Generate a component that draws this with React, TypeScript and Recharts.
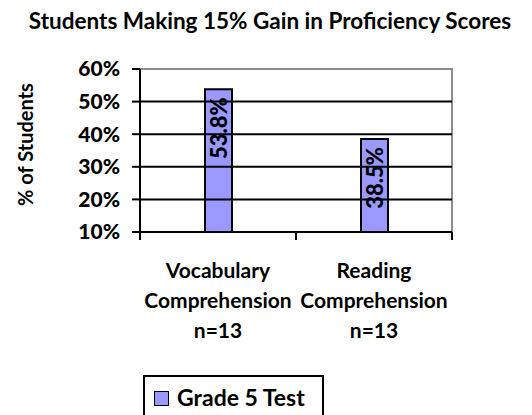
import React from "react"
import { Bar, BarChart, LabelList, ReferenceArea, ReferenceLine, XAxis, YAxis } from "recharts"

const categoryLines = [
    ["Vocabulary", "Comprehension", "n=13"],
    ["Reading", "Comprehension", "n=13"],
]
const seriesName = "Grade 5 Test"
const seriesValues = [53.8, 38.5]
const yTicks = [10, 20, 30, 40, 50, 60]
const gridValues = [20, 30, 40, 50]

const FONT = "Lato, 'DejaVu Sans', sans-serif"
const W = 532
const H = 415
const margin = { top: 69, right: 80, left: 0, bottom: 0 }
const yAxisWidth = 140
const bandHalf = (W - yAxisWidth - margin.right) / categoryLines.length / 2

const data = categoryLines.map((lines, i) => ({ name: lines.join(" "), value: seriesValues[i] }))

function XTick(props: any) {
    const { x, y, index } = props
    const lines = categoryLines[index] || []
    return (
        <g>
            {index === 0 && <line x1={x - bandHalf} x2={x - bandHalf} y1={y} y2={y + 8} stroke="#000" strokeWidth={2} />}
            <line x1={x + bandHalf} x2={x + bandHalf} y1={y} y2={y + 8} stroke="#000" strokeWidth={2} />
            {lines.map((t: string, i: number) => (
                <text key={i} x={x} y={y + 46 + i * 30} textAnchor="middle" fontFamily={FONT} fontWeight="bold" fontSize={21} fill="#000">
                    {t}
                </text>
            ))}
        </g>
    )
}

function BarLabel(props: any) {
    const { x, y, width, value } = props
    const cx = x + width / 2
    const ty = y + 8
    return (
        <text x={cx} y={ty} transform={`rotate(-90 ${cx} ${ty})`} textAnchor="end" dominantBaseline="central"
            fontFamily={FONT} fontWeight={900} fontSize={22} fill="#000">
            {`${value}%`}
        </text>
    )
}

function YLabel(props: any) {
    const { viewBox } = props
    const cx = 25
    const cy = viewBox.y + viewBox.height / 2 - 6
    return (
        <text x={cx} y={cy} transform={`rotate(-90 ${cx} ${cy})`} textAnchor="middle" dominantBaseline="central"
            fontFamily={FONT} fontWeight="bold" fontSize={20} fill="#000">
            % of Students
        </text>
    )
}

export default function App() {
    return (
        <div style={{ position: "absolute", left: 0, top: 0, width: W, height: H, background: "#fff", overflow: "hidden", fontFamily: FONT }}>
            <div style={{ position: "absolute", left: 0, top: 7, width: 540, textAlign: "center", fontWeight: "bold", fontSize: 22.5, color: "#000" }}>
                Students Making 15% Gain in Proficiency Scores
            </div>
            <BarChart width={W} height={H} data={data} margin={margin} barCategoryGap="0%">
                <ReferenceArea y1={10} y2={60} fill="none" stroke="#8c8c8c" strokeWidth={2} ifOverflow="visible" />
                {gridValues.map((v) => (
                    <ReferenceLine key={v} y={v} stroke="#000" strokeWidth={2} />
                ))}
                <XAxis dataKey="name" height={H - 232} tick={<XTick />} tickLine={false} tickSize={0} tickMargin={0}
                    axisLine={{ stroke: "#000", strokeWidth: 2 }} interval={0} />
                <YAxis width={yAxisWidth} domain={[10, 60]} ticks={yTicks} allowDataOverflow
                    tickFormatter={(v) => `${v}%`} tickSize={8} tickMargin={12}
                    tick={{ fill: "#000", fontSize: 21, fontWeight: 900, fontFamily: FONT }}
                    tickLine={{ stroke: "#000", strokeWidth: 2 }} axisLine={{ stroke: "#000", strokeWidth: 2 }}
                    label={<YLabel />} />
                <Bar dataKey="value" name={seriesName} fill="#9999ff" stroke="#000" strokeWidth={2} barSize={27} isAnimationActive={false}>
                    <LabelList dataKey="value" content={<BarLabel />} />
                </Bar>
            </BarChart>
            <div style={{ position: "absolute", left: 143, top: 375, width: 181, height: 50, border: "2px solid #000", boxSizing: "border-box", background: "#fff" }}>
                <div style={{ position: "absolute", left: 9, top: 14, width: 13, height: 13, background: "#9999ff", border: "1px solid #000" }} />
                <div style={{ position: "absolute", left: 32, top: 6, fontWeight: "bold", fontSize: 23, color: "#000", whiteSpace: "nowrap" }}>
                    {seriesName}
                </div>
            </div>
        </div>
    )
}
